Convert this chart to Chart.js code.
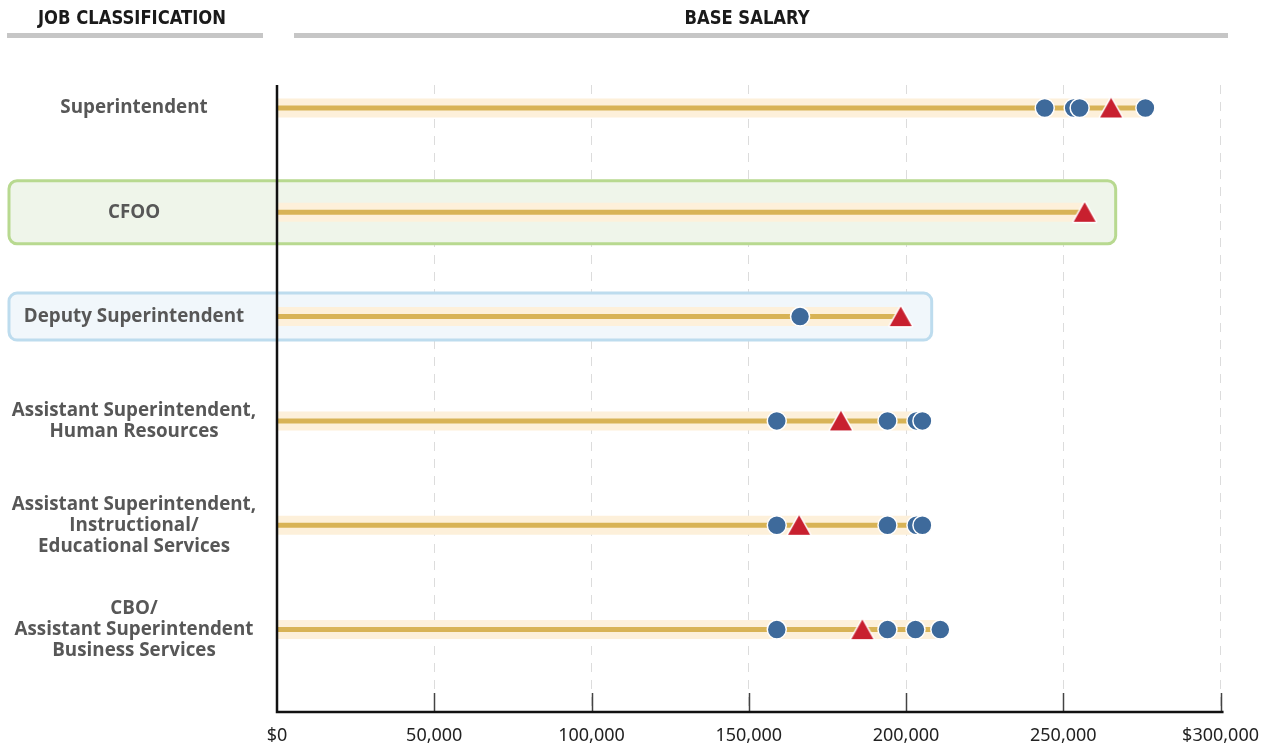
<!DOCTYPE html>
<html>
<head>
<meta charset="utf-8">
<script src="https://cdn.jsdelivr.net/npm/chart.js@4.4.1/dist/chart.umd.min.js"></script>
<style>
  html, body { margin: 0; padding: 0; background: #ffffff; }
  canvas { display: block; }
</style>
</head>
<body>
<canvas id="salaryChart" width="1272" height="746"></canvas>
<script>
// Job classifications, top to bottom (each entry is the label split into lines)
const jobTitles = [
  ['Superintendent'],
  ['CFOO'],
  ['Deputy Superintendent'],
  ['Assistant Superintendent,', 'Human Resources'],
  ['Assistant Superintendent,', 'Instructional/', 'Educational Services'],
  ['CBO/', 'Assistant Superintendent', 'Business Services']
];

// Base salaries of comparison districts (blue circles)
const peerSalaries = [
  [244100, 253300, 255200, 276100],
  [],
  [166300],
  [158900, 194100, 203300, 205200],
  [158900, 194100, 203300, 205200],
  [158900, 194100, 203000, 210900]
];

// Base salary in the district itself (red triangles)
const districtSalaries = [265200, 256800, 198300, 179300, 166000, 186100];

// Salary axis
const salaryTicks = [0, 50000, 100000, 150000, 200000, 250000, 300000];
const salaryTickLabels = ['$0', '50,000', '100,000', '150,000', '200,000', '250,000', '$300,000'];

// Highlighted rows
const highlightedRows = [1, 2];

// ---- build the chart ----
const rowMax = jobTitles.map((_, i) => Math.max(districtSalaries[i], ...peerSalaries[i]));

const triangleMark = (() => {
  const c = document.createElement('canvas');
  c.width = 28; c.height = 25;
  const g = c.getContext('2d');
  g.beginPath();
  g.moveTo(14, 2.5);
  g.lineTo(25, 22);
  g.lineTo(3, 22);
  g.closePath();
  g.lineJoin = 'round';
  g.lineWidth = 3;
  g.strokeStyle = '#ffffff';
  g.stroke();
  g.fillStyle = '#c8202f';
  g.fill();
  return c;
})();

const datasets = [];
rowMax.forEach((m, i) => {
  datasets.push({
    label: 'range band ' + i,
    data: [{ x: 0, y: i }, { x: m, y: i }],
    showLine: true,
    borderColor: '#fdf0da',
    borderWidth: 19,
    borderCapStyle: 'butt',
    pointRadius: 0,
    order: 4
  });
  datasets.push({
    label: 'range line ' + i,
    data: [{ x: 0, y: i }, { x: m, y: i }],
    showLine: true,
    borderColor: '#d8b356',
    borderWidth: 5,
    borderCapStyle: 'butt',
    pointRadius: 0,
    order: 3
  });
});
datasets.push({
  label: 'Comparison districts',
  data: peerSalaries.flatMap((row, i) => row.map(v => ({ x: v, y: i }))),
  pointStyle: 'circle',
  pointRadius: 9.5,
  pointBackgroundColor: '#3e6a9b',
  pointBorderColor: '#ffffff',
  pointBorderWidth: 1.5,
  order: 1
});
datasets.push({
  label: 'District',
  data: districtSalaries.map((v, i) => ({ x: v, y: i })),
  pointStyle: triangleMark,
  pointRadius: 12,
  order: 0
});

const rowLabelFont = 'bold 18.8px "Open Sans", Lato, sans-serif';
const headerFont = 'bold 19px "DejaVu Sans Condensed", "Liberation Sans Narrow", sans-serif';

function roundRect(ctx, x, y, w, h, r) {
  ctx.beginPath();
  ctx.moveTo(x + r, y);
  ctx.lineTo(x + w - r, y);
  ctx.arcTo(x + w, y, x + w, y + r, r);
  ctx.lineTo(x + w, y + h - r);
  ctx.arcTo(x + w, y + h, x + w - r, y + h, r);
  ctx.lineTo(x + r, y + h);
  ctx.arcTo(x, y + h, x, y + h - r, r);
  ctx.lineTo(x, y + r);
  ctx.arcTo(x, y, x + r, y, r);
  ctx.closePath();
}

const decorations = {
  id: 'decorations',
  beforeDatasetsDraw(chart) {
    const { ctx, scales: { x, y } } = chart;
    const boxStyles = {
      1: { stroke: '#b8d990', fill: '#eff5ea', height: 63 },
      2: { stroke: '#bddcee', fill: '#f1f7fb', height: 47 }
    };
    highlightedRows.forEach(row => {
      const s = boxStyles[row];
      const cy = y.getPixelForValue(row);
      const right = x.getPixelForValue(rowMax[row]) + 31;
      ctx.save();
      roundRect(ctx, 9, cy - s.height / 2, right - 9, s.height, 8);
      ctx.fillStyle = s.fill;
      ctx.fill();
      ctx.lineWidth = 3;
      ctx.strokeStyle = s.stroke;
      ctx.stroke();
      ctx.restore();
    });
  },
  afterDatasetsDraw(chart) {
    const { ctx, scales: { x, y }, chartArea } = chart;
    ctx.save();
    // short tick marks rising from the salary axis
    ctx.strokeStyle = '#444444';
    ctx.lineWidth = 1.5;
    salaryTicks.slice(1).forEach(v => {
      const px = Math.round(x.getPixelForValue(v)) + 0.5;
      ctx.beginPath();
      ctx.moveTo(px, chartArea.bottom - 19);
      ctx.lineTo(px, chartArea.bottom);
      ctx.stroke();
    });
    // axis lines
    ctx.strokeStyle = '#111111';
    ctx.lineWidth = 2.5;
    ctx.beginPath();
    ctx.moveTo(chartArea.left, chartArea.top);
    ctx.lineTo(chartArea.left, chartArea.bottom);
    ctx.lineTo(chartArea.right + 3, chartArea.bottom);
    ctx.stroke();

    // row labels
    ctx.fillStyle = '#575757';
    ctx.font = rowLabelFont;
    ctx.textAlign = 'center';
    ctx.textBaseline = 'middle';
    const lineH = 21;
    jobTitles.forEach((lines, i) => {
      const cy = y.getPixelForValue(i);
      const top = cy - (lines.length - 1) * lineH / 2;
      lines.forEach((t, k) => ctx.fillText(t, 134, top + k * lineH));
    });

    // column headers
    ctx.fillStyle = '#1a1a1a';
    ctx.font = headerFont;
    ctx.save();
    ctx.translate(132, 19);
    ctx.scale(0.96, 1);
    ctx.fillText('JOB CLASSIFICATION', 0, 0);
    ctx.restore();
    ctx.save();
    ctx.translate(747, 19);
    ctx.scale(0.96, 1);
    ctx.fillText('BASE SALARY', 0, 0);
    ctx.restore();
    ctx.fillStyle = '#c6c6c6';
    ctx.fillRect(7, 33, 256, 5);
    ctx.fillRect(294, 33, 934, 5);
    ctx.restore();
  }
};

new Chart(document.getElementById('salaryChart'), {
  type: 'scatter',
  data: { datasets },
  options: {
    responsive: false,
    animation: false,
    devicePixelRatio: 1,
    events: [],
    layout: { padding: { left: 277, right: 50, top: 85, bottom: 0 } },
    plugins: { legend: { display: false }, tooltip: { enabled: false } },
    scales: {
      x: {
        type: 'linear',
        min: 0,
        max: 300000,
        afterBuildTicks: axis => { axis.ticks = salaryTicks.map(v => ({ value: v })); },
        afterFit: axis => { axis.height = 34; },
        ticks: {
          padding: 13,
          color: '#222222',
          font: { family: '"Noto Sans", "Open Sans", sans-serif', size: 18 },
          maxRotation: 0,
          callback: (value, index) => salaryTickLabels[index]
        },
        grid: { color: '#dcdcdc', lineWidth: 1, drawTicks: false },
        border: { display: false, dash: [9, 8] }
      },
      y: {
        type: 'linear',
        reverse: true,
        min: -0.22,
        max: 5.79,
        display: false
      }
    }
  },
  plugins: [decorations]
});
</script>
</body>
</html>
